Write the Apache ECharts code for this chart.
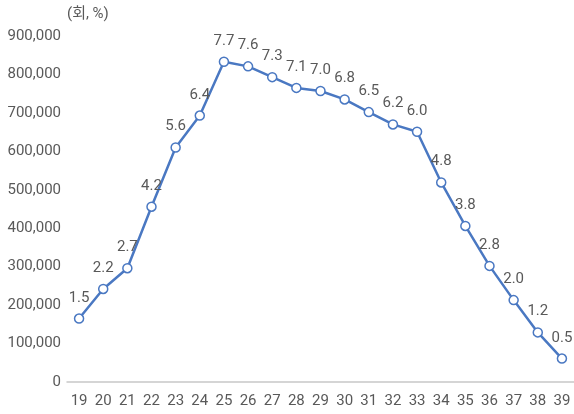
<!DOCTYPE html>
<html><head><meta charset="utf-8">
<script src="https://cdn.jsdelivr.net/npm/echarts@6/dist/echarts.min.js"></script>
<style>html,body{margin:0;padding:0;background:#fff}#c{width:574px;height:414px}</style>
</head><body><div id="c"></div>
<script>
const categories = ['19','20','21','22','23','24','25','26','27','28','29','30','31','32','33','34','35','36','37','38','39'];
const counts = [165000,242000,296000,456000,610000,693000,833000,821000,793000,765000,757000,735000,702000,670000,651000,519000,406000,302000,213000,129000,61000];
const shares = ['1.5','2.2','2.7','4.2','5.6','6.4','7.7','7.6','7.3','7.1','7.0','6.8','6.5','6.2','6.0','4.8','3.8','2.8','2.0','1.2','0.5'];
const unitLabel = '(회, %)';

const chart = echarts.init(document.getElementById('c'));
const font = 'Roboto, "Noto Sans CJK KR", sans-serif';
chart.setOption({
  animation: false,
  graphic: [{type:'text', left: 67, top: 7, style:{text: unitLabel, fontSize: 15, fill:'#595959', fontFamily: font}}],
  grid: {left: 67, width: 511, top: 36, bottom: 32, containLabel: false},
  xAxis: {
    type: 'category', data: categories, boundaryGap: true,
    axisLine: {lineStyle: {color: '#c8c8c8', width: 1.5}},
    axisTick: {show: false},
    axisLabel: {color: '#595959', fontSize: 15, fontFamily: font, margin: 12}
  },
  yAxis: {
    type: 'value', min: 0, max: 900000, interval: 100000,
    axisLine: {show: false}, axisTick: {show: false}, splitLine: {show: false},
    axisLabel: {color: '#595959', fontSize: 15, fontFamily: font, margin: 6,
      formatter: v => v.toLocaleString('en-US')}
  },
  series: [{
    type: 'line', data: counts.map((v,i)=>({value: v, label: {formatter: shares[i]}})),
    lineStyle: {color: '#4a78c2', width: 2.5},
    itemStyle: {color: '#fff', borderColor: '#4a78c2', borderWidth: 1.5},
    symbol: 'circle', symbolSize: 9,
    label: {show: true, position: 'top', distance: 8, color: '#595959', fontSize: 15, fontFamily: font}
  }]
});
</script></body></html>
